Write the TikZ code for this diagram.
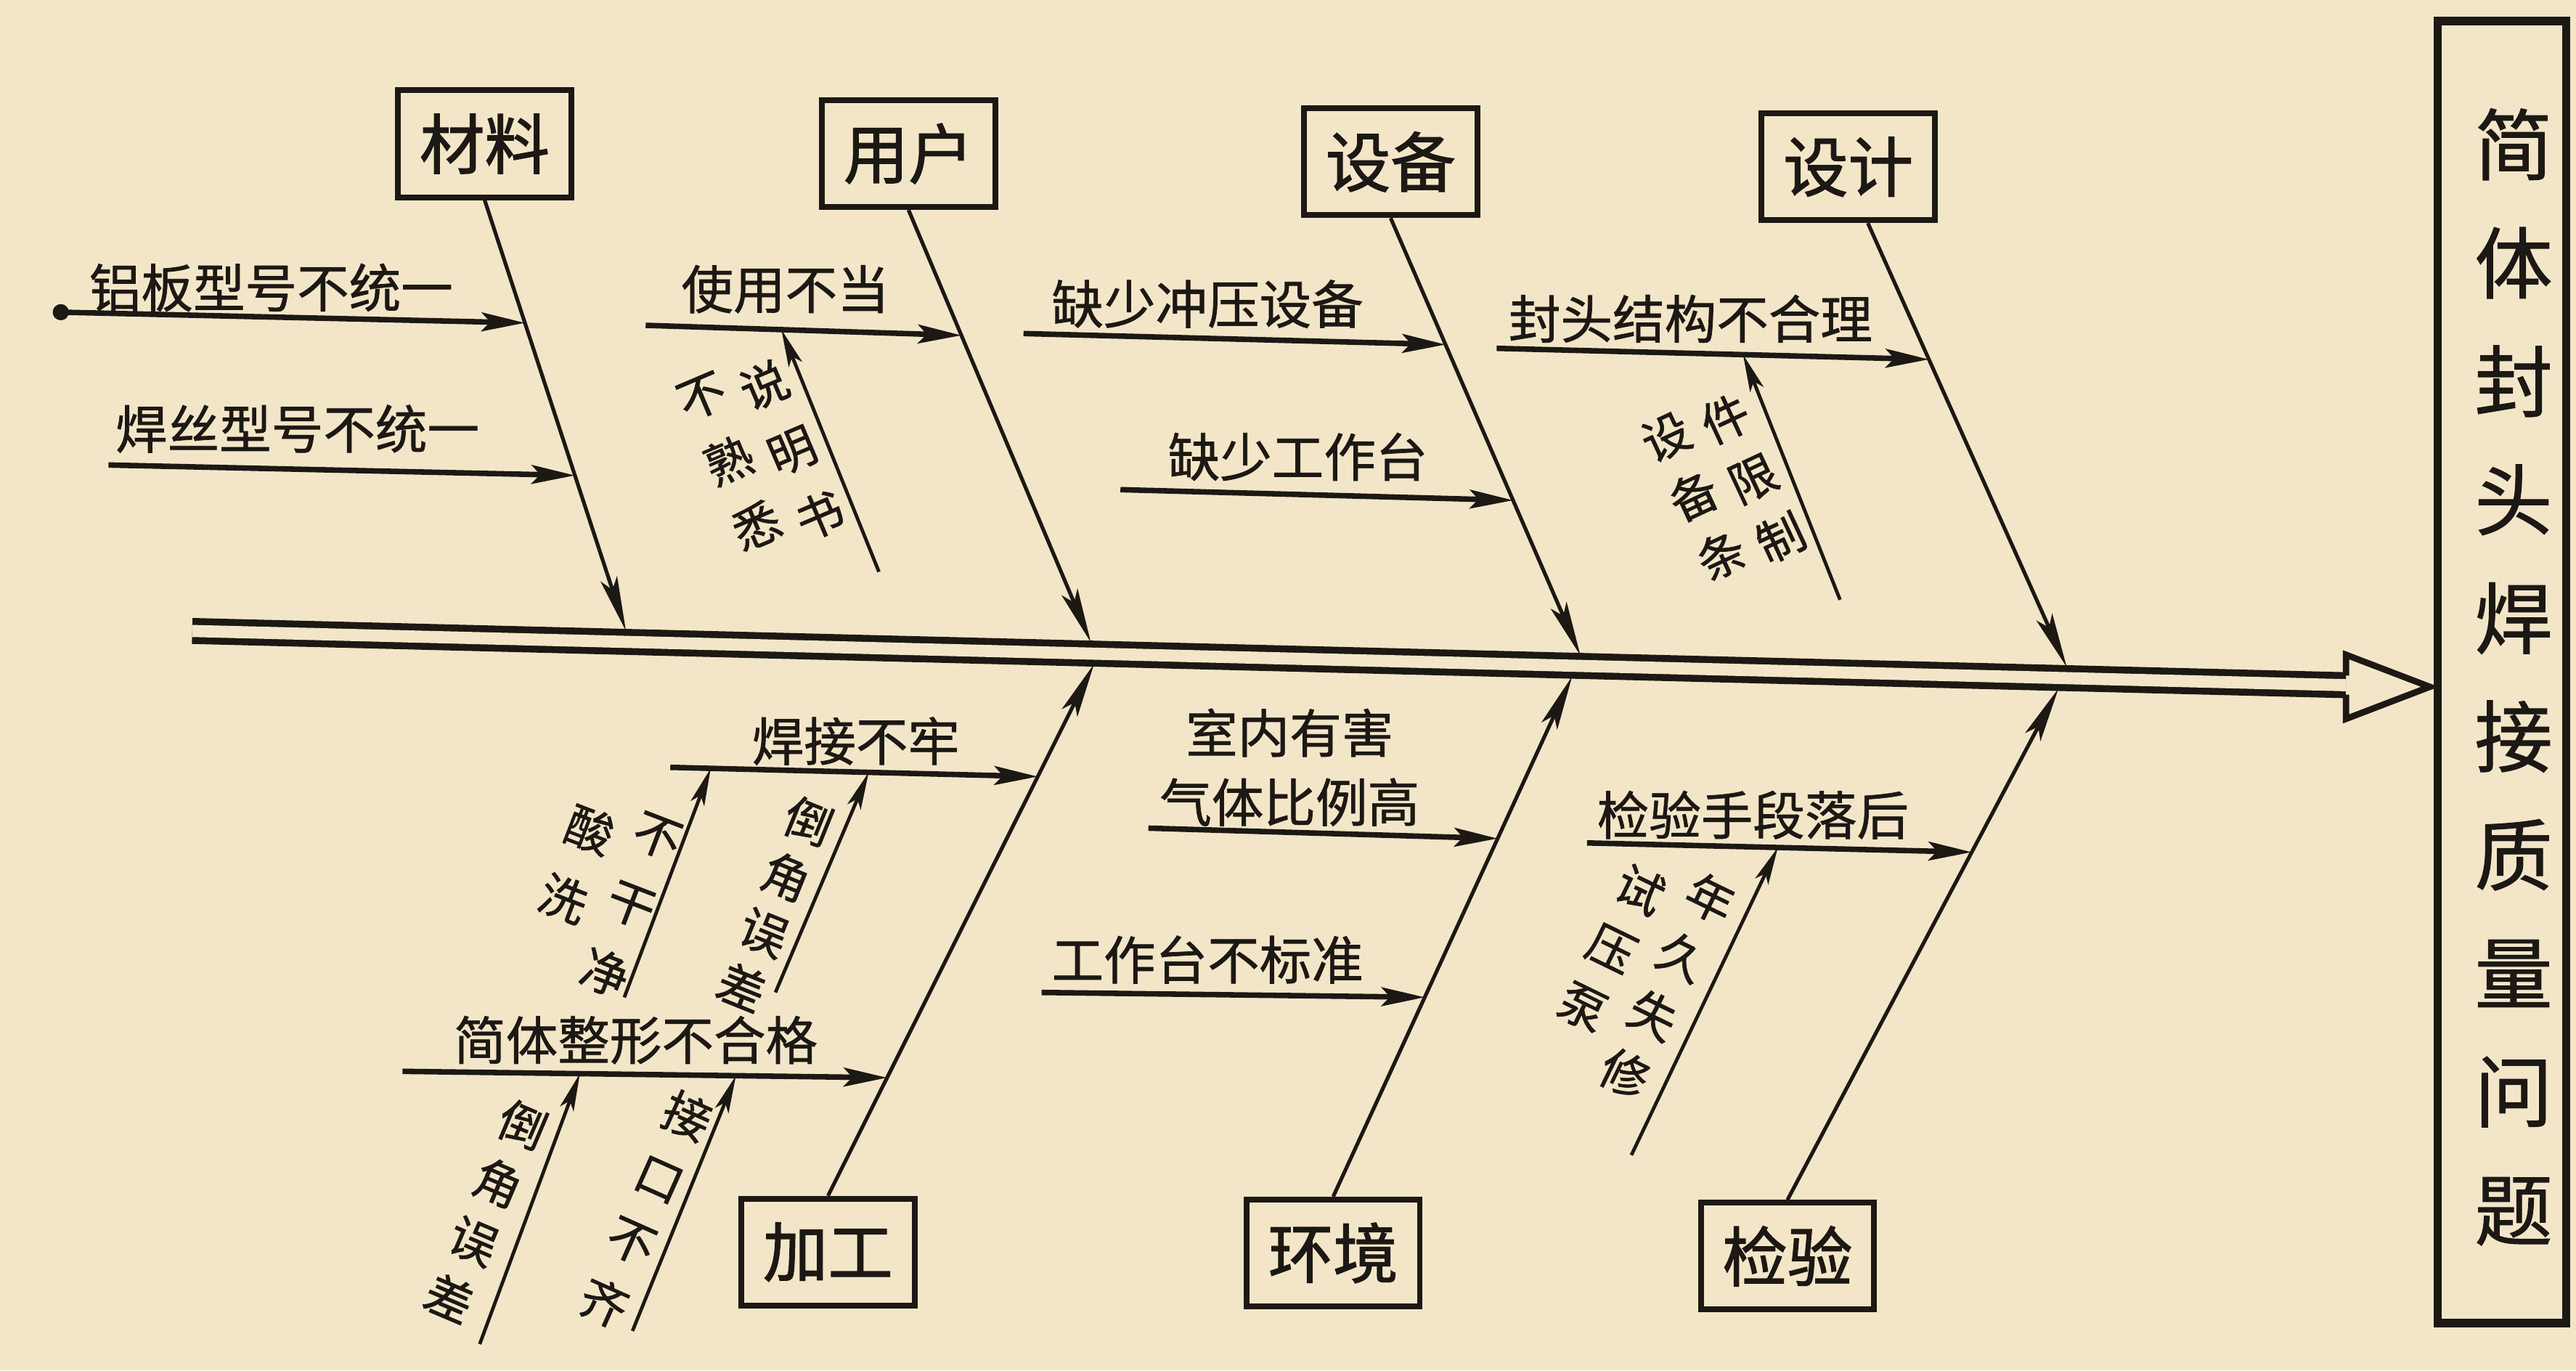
\documentclass[tikz,border=0pt]{standalone}
\usepackage{fontspec}
\setmainfont{Noto Sans CJK SC}
\newfontfamily\boxfont{Noto Sans CJK SC}[FakeBold=1.6]
\newfontfamily\lblfont{Noto Sans CJK SC}[FakeBold=1.0]
\usetikzlibrary{arrows.meta,calc}
\definecolor{paper}{RGB}{243,230,200}
\definecolor{ink}{RGB}{28,24,20}
\tikzset{
  cat/.style={draw=ink, line width=2pt, minimum width=60pt, minimum height=37pt, inner sep=0pt, text=ink, font=\boxfont\fontsize{22.5}{22.5}\selectfont},
  bone/.style={draw=ink, line width=1.3pt, -{Stealth[length=19pt,width=6pt,inset=4pt]}},
  twig/.style={draw=ink, line width=1.9pt, -{Stealth[length=15pt,width=6.5pt,inset=3pt]}},
  subtwig/.style={draw=ink, line width=1.2pt, -{Stealth[length=13pt,width=5pt,inset=3pt]}},
  lbl/.style={inner sep=0pt, text=ink, font=\lblfont\fontsize{18}{18}\selectfont},
  col/.style={inner sep=0pt, text=ink, align=center, font=\lblfont\fontsize{16.5}{#1}\selectfont},
}
\begin{document}
\begin{tikzpicture}[x=0.02cm, y=-0.02cm]
\fill[paper] (0,0) rectangle (1568,834);
\useasboundingbox (0,0) rectangle (1568,834);

% effect box
\node[draw=ink, line width=2.8pt, minimum width=44.5pt, minimum height=451pt, inner sep=0pt] (effect) at (1523,409) {};
\node[inner sep=0pt, text=ink, align=center, font=\lblfont\fontsize{27}{41}\selectfont] (effecttxt) at (1530,412) {简\\体\\封\\头\\焊\\接\\质\\量\\问\\题};

% spine
\coordinate (spL) at (117,384);
\coordinate (spR) at (1428,417);
\draw[ink, line width=2.4pt, double=paper, double distance=4.2pt] (spL) -- (spR);
\coordinate (ahT) at (1428,398.5);
\coordinate (ahB) at (1428,437.5);
\coordinate (tip) at (1479,418);
\fill[paper] (ahT) -- (tip) -- (ahB) -- cycle;
\draw[ink, line width=2.2pt, line join=miter] ([yshift=3.3pt]spR) -- (ahT) -- (tip) -- (ahB) -- ([yshift=-3.3pt]spR);

% category boxes
\node[cat] (cl) at (295,87.5) {材料};
\node[cat] (yh) at (553,93.5) {用户};
\node[cat] (sb) at (846.5,98.5) {设备};
\node[cat] (sj) at (1125,101.5) {设计};
\node[cat] (jg) at (504,762) {加工};
\node[cat] (hj) at (811.5,762.5) {环境};
\node[cat] (jy) at (1088,764.5) {检验};

% bone ends on spine
\coordinate (clE) at (381,384);
\coordinate (yhE) at (664,391);
\coordinate (sbE) at (962,399);
\coordinate (sjE) at (1258,406);
\coordinate (jgE) at (666,404);
\coordinate (hjE) at (957,411.5);
\coordinate (jyE) at (1253,419);
\coordinate (sjS) at ([xshift=6.8pt]sj.south);

\draw[bone] (cl.south) -- (clE);
\draw[bone] (yh.south) -- (yhE);
\draw[bone] (sb.south) -- (sbE);
\draw[bone] (sjS) -- (sjE);
\draw[bone] (jg.north) -- (jgE);
\draw[bone] (hj.north) -- (hjE);
\draw[bone] (jy.north) -- (jyE);

% 材料
\coordinate (a1) at (37,190);
\coordinate (a2) at (66,283);
\draw[twig] (a1) -- ($(cl.south)!0.285!(clE)$);
\draw[twig] (a2) -- ($(cl.south)!0.639!(clE)$);
\fill[ink] (a1) circle[radius=2.8pt];
\node[lbl] (la1) at (165,175) {铝板型号不统一};
\node[lbl] (la2) at (181,261) {焊丝型号不统一};

% 用户
\coordinate (b1) at (393,198);
\coordinate (b1e) at ($(yh.south)!0.29!(yhE)$);
\draw[twig] (b1) -- (b1e);
\node[lbl] (lb1) at (478,176) {使用不当};
\coordinate (b2) at (535,348);
\draw[subtwig] (b2) -- ($(b1)!0.43!(b1e)$);
\node[col=24.5pt, rotate=23] (lb2a) at (444,281) {不\\熟\\悉};
\node[col=24.5pt, rotate=23] (lb2b) at (482,274) {说\\明\\书};

% 设备
\coordinate (c1) at (623,203);
\draw[twig] (c1) -- ($(sb.south)!0.289!(sbE)$);
\node[lbl] (lc1) at (735,185) {缺少冲压设备};
\coordinate (c2) at (682,298);
\draw[twig] (c2) -- ($(sb.south)!0.645!(sbE)$);
\node[lbl] (lc2) at (790,278) {缺少工作台};

% 设计
\coordinate (d1) at (911,212);
\coordinate (d1e) at ($(sjS)!0.307!(sjE)$);
\draw[twig] (d1) -- (d1e);
\node[lbl] (ld1) at (1029,194) {封头结构不合理};
\coordinate (d2) at (1120,365);
\draw[subtwig] (d2) -- ($(d1)!0.57!(d1e)$);
\node[col=22.7pt, rotate=25] (ld2a) at (1031,302) {设\\备\\条};
\node[col=22.7pt, rotate=25] (ld2b) at (1067,291) {件\\限\\制};

% 加工
\coordinate (e1) at (408,467);
\coordinate (e1e) at ($(jg.north)!0.788!(jgE)$);
\draw[twig] (e1) -- (e1e);
\node[lbl] (le1) at (521,451) {焊接不牢};
\coordinate (e2) at (380,607);
\draw[subtwig] (e2) -- ($(e1)!0.11!(e1e)$);
\node[col=25.5pt, rotate=-21] (le2a) at (351,526) {酸\\洗};
\node[col=25.5pt, rotate=-21] (le2b) at (384,551) {不\\干\\净};
\coordinate (e3) at (472,604);
\draw[subtwig] (e3) -- ($(e1)!0.54!(e1e)$);
\node[col=20.7pt, rotate=-22] (le3) at (472,550) {倒\\角\\误\\差};

\coordinate (e4) at (245,652);
\coordinate (e4e) at ($(jg.north)!0.222!(jgE)$);
\draw[twig] (e4) -- (e4e);
\node[lbl] (le4) at (387,633) {简体整形不合格};
\coordinate (e5) at (292,818);
\draw[subtwig] (e5) -- ($(e4)!0.366!(e4e)$);
\node[col=21.8pt, rotate=-23] (le5) at (296,737) {倒\\角\\误\\差};
\coordinate (e6) at (385,810);
\draw[subtwig] (e6) -- ($(e4)!0.688!(e4e)$);
\node[col=23.6pt, rotate=-24] (le6) at (393,736) {接\\口\\不\\齐};

% 环境
\coordinate (f1) at (699,504);
\draw[twig] (f1) -- ($(hj.north)!0.688!(hjE)$);
\node[lbl, align=center, font=\lblfont\fontsize{18}{24}\selectfont] (lf1) at (785,467) {室内有害\\气体比例高};
\coordinate (f2) at (634,604);
\draw[twig] (f2) -- ($(hj.north)!0.383!(hjE)$);
\node[lbl] (lf2) at (735,584) {工作台不标准};

% 检验
\coordinate (g1) at (966,513);
\coordinate (g1e) at ($(jy.north)!0.68!(jyE)$);
\draw[twig] (g1) -- (g1e);
\node[lbl] (lg1) at (1067,496) {检验手段落后};
\coordinate (g2) at (993,703);
\draw[subtwig] (g2) -- ($(g1)!0.496!(g1e)$);
\node[col=22.5pt, rotate=-26] (lg2a) at (981,577) {试\\压\\泵};
\node[col=22.5pt, rotate=-26] (lg2b) at (1015,600) {年\\久\\失\\修};
\end{tikzpicture}
\end{document}
